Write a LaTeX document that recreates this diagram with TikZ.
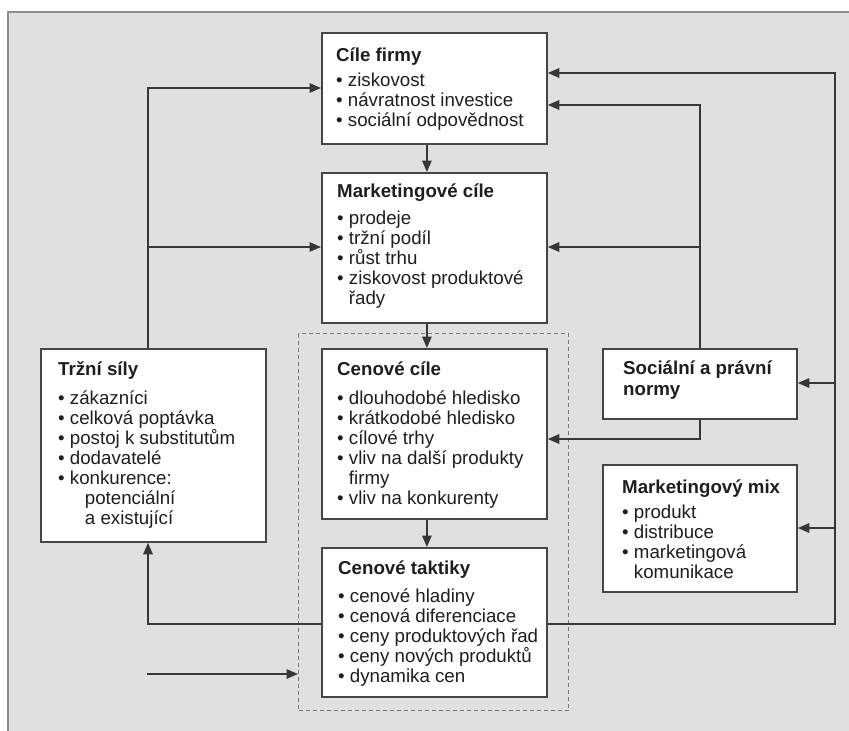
\documentclass[tikz,border=0pt]{standalone}
\usepackage{fontspec}
\setmainfont{Liberation Sans}
\usetikzlibrary{arrows.meta}
\definecolor{bg}{RGB}{224,224,224}
\definecolor{panelline}{RGB}{140,140,140}
\definecolor{boxline}{RGB}{70,70,70}
\definecolor{conn}{RGB}{55,55,55}
\definecolor{txtc}{RGB}{30,30,30}
\definecolor{dashc}{RGB}{120,120,120}
\tikzset{
  box/.style={draw=boxline, line width=1.8pt, fill=white, rectangle, anchor=north west, inner sep=0pt},
  txt/.style={anchor=north west, inner sep=0pt, align=left, text=txtc, font=\fontsize{18.7}{20}\selectfont},
  arr/.style={draw=conn, line width=1.5pt, -{Triangle[length=11.5pt,width=9.5pt]}},
  grpbox/.style={draw=dashc, line width=1.3pt, dash pattern=on 4pt off 3pt, rectangle, anchor=north west, inner sep=0pt}
}
\begin{document}
\begin{tikzpicture}[x=1pt,y=-1pt]
\useasboundingbox (0,0) rectangle (849,731);
\fill[bg] (8,12) rectangle (849,731);
\draw[panelline, line width=1.2pt] (8,731) -- (8,12) -- (849,12);

% group (dashed)
\node[grpbox, minimum width=270pt, minimum height=377pt] (grp) at (298,333) {};

% boxes
\node[box, minimum width=225pt, minimum height=111pt] (cf) at (321,32) {};
\node[box, minimum width=225pt, minimum height=150pt] (mc) at (321,172) {};
\node[box, minimum width=225pt, minimum height=193pt] (ts) at (40,348) {};
\node[box, minimum width=225pt, minimum height=170pt] (cc) at (321,348) {};
\node[box, minimum width=225pt, minimum height=149pt] (ct) at (321,547) {};
\node[box, minimum width=194pt, minimum height=70pt] (sn) at (602,348) {};
\node[box, minimum width=194pt, minimum height=127pt] (mm) at (602,464) {};

% texts
\node[txt] (cft) at (336,45) {\rule{0pt}{16pt}\textbf{Cíle firmy}\\[5pt]
• ziskovost\\
• návratnost investice\\
• sociální odpovědnost};
\node[txt] (mct) at (337,181) {\rule{0pt}{16pt}\textbf{Marketingové cíle}\\[7pt]
• prodeje\\
• tržní podíl\\
• růst trhu\\
• ziskovost produktové\\
\phantom{• }řady};
\node[txt] (tst) at (58,359) {\rule{0pt}{16pt}\textbf{Tržní síly}\\[9pt]
• zákazníci\\
• celková poptávka\\
• postoj k substitutům\\
• dodavatelé\\
• konkurence:\\
\phantom{• }\hspace{15pt}potenciální\\
\phantom{• }\hspace{15pt}a existující};
\node[txt] (cct) at (337,359) {\rule{0pt}{16pt}\textbf{Cenové cíle}\\[9pt]
• dlouhodobé hledisko\\
• krátkodobé hledisko\\
• cílové trhy\\
• vliv na další produkty\\
\phantom{• }firmy\\
• vliv na konkurenty};
\node[txt] (ctt) at (338,558) {\rule{0pt}{16pt}\textbf{Cenové taktiky}\\[8pt]
• cenové hladiny\\
• cenová diferenciace\\
• ceny produktových řad\\
• ceny nových produktů\\
• dynamika cen};
\node[txt] (snt) at (623,358) {\rule{0pt}{16pt}\textbf{Sociální a právní}\\[1pt]
\textbf{normy}};
\node[txt] (mmt) at (622,477) {\rule{0pt}{16pt}\textbf{Marketingový mix}\\[5pt]
• produkt\\
• distribuce\\
• marketingová\\
\phantom{• }komunikace};

% coordinates
\coordinate (L) at (148,624);
\coordinate (Ltop) at (148,88);
\coordinate (R) at (835,624);
\coordinate (Rtop) at (835,73);
\coordinate (S) at (700,105);
\coordinate (Sb) at (700,439);
\coordinate (inp) at (147,674);
\coordinate (yA) at (0,247);
\coordinate (ySn) at (0,383);
\coordinate (yMm) at (0,528);

% vertical chain
\draw[arr] ([xshift=-7.5pt]cf.south) -- ([xshift=-7.5pt]mc.north);
\draw[arr] ([xshift=-7.5pt]mc.south) -- ([xshift=-7.5pt]cc.north);
\draw[arr] ([xshift=-7.5pt]cc.south) -- ([xshift=-7.5pt]ct.north);

% feedback from tactics
\draw[arr] (ct.west |- L) -- (L) -- (L |- ts.south);
\draw[arr] (ct.east |- R) -- (R) -- (Rtop) -- (cf.east |- Rtop);
\draw[arr] (R |- ySn) -- (sn.east |- ySn);
\draw[arr] (R |- yMm) -- (mm.east |- yMm);

% market forces
\draw[arr] (ts.north -| Ltop) -- (Ltop) -- (cf.west |- Ltop);
\draw[arr] (Ltop |- yA) -- (mc.west |- yA);

% social norms
\draw[arr] (sn.north -| S) -- (S) -- (cf.east |- S);
\draw[arr] (S |- yA) -- (mc.east |- yA);
\draw[arr] (sn.south -| Sb) -- (Sb) -- (cc.east |- Sb);

% input
\draw[arr] (inp) -- (grp.west |- inp);
\end{tikzpicture}
\end{document}
